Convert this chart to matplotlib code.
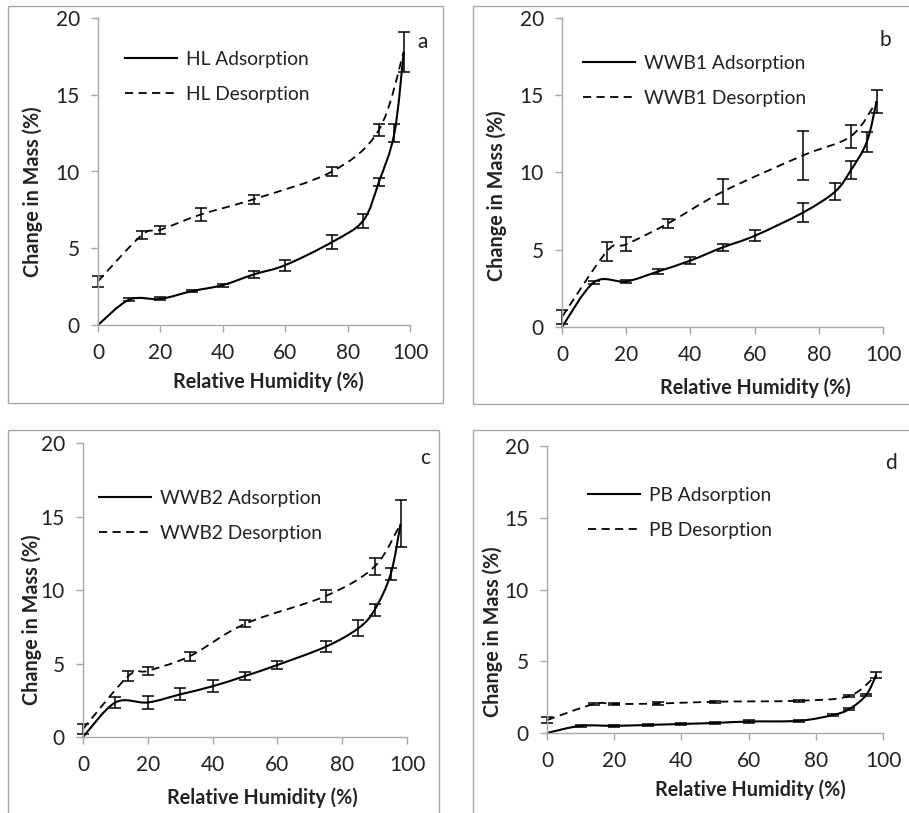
import numpy as np
import matplotlib
matplotlib.use("Agg")
import matplotlib.pyplot as plt
from matplotlib.path import Path
from matplotlib.patches import PathPatch, Rectangle
from matplotlib.lines import Line2D

plt.rcParams['font.family'] = ['Lato', 'DejaVu Sans']

W, H = 909, 813

rh_ads = [0, 10, 20, 30, 40, 50, 60, 75, 85, 90, 95, 98]
rh_des = [0, 14, 20, 33, 50, 75, 90, 98]

# HL
hl_ads = [0, 1.65, 1.7, 2.2, 2.6, 3.3, 3.9, 5.4, 6.8, 9.3, 12.5, 17.8]
hl_ads_err = [0, 0.1, 0.1, 0.05, 0.1, 0.25, 0.35, 0.45, 0.45, 0.25, 0.6, 1.3]
hl_des = [2.85, 5.85, 6.2, 7.2, 8.2, 10.0, 12.7, 17.8]
hl_des_err = [0.35, 0.25, 0.25, 0.4, 0.3, 0.3, 0.4, 0]

# WWB1
wwb1_ads = [0, 2.9, 2.95, 3.6, 4.3, 5.15, 5.9, 7.4, 8.75, 10.15, 12.0, 14.6]
wwb1_ads_err = [0, 0.1, 0.1, 0.15, 0.2, 0.2, 0.35, 0.6, 0.55, 0.6, 0.65, 0.75]
wwb1_des = [0.65, 4.9, 5.35, 6.7, 8.75, 11.1, 12.35, 14.6]
wwb1_des_err = [0.45, 0.6, 0.45, 0.3, 0.8, 1.6, 0.75, 0]

# WWB2
wwb2_ads = [0, 2.35, 2.35, 2.9, 3.45, 4.15, 4.9, 6.15, 7.4, 8.65, 11.1, 14.5]
wwb2_ads_err = [0, 0.4, 0.45, 0.4, 0.4, 0.3, 0.25, 0.35, 0.55, 0.4, 0.4, 1.6]
wwb2_des = [0.55, 4.15, 4.5, 5.5, 7.7, 9.6, 11.6, 14.5]
wwb2_des_err = [0.35, 0.35, 0.25, 0.3, 0.25, 0.4, 0.55, 0]

# PB
pb_ads = [0, 0.5, 0.5, 0.56, 0.63, 0.7, 0.8, 0.85, 1.25, 1.67, 2.65, 4.05]
pb_ads_err = [0, 0.05, 0.05, 0.05, 0.05, 0.05, 0.08, 0.05, 0.05, 0.1, 0.05, 0.2]
pb_des = [0.9, 2.02, 2.02, 2.05, 2.18, 2.25, 2.58, 4.05]
pb_des_err = [0.2, 0.1, 0.08, 0.08, 0.08, 0.06, 0.08, 0]

panels = [
    # name, ads, ads_err, des, des_err, letter, axes px (left, right, top, bottom), frame px, legend xy, letter xy
    ("HL", hl_ads, hl_ads_err, hl_des, hl_des_err, "a",
     (98, 410, 18, 325), (8, 6, 443, 403), (125, 51), (423, 42), (33, 192), (268, 382)),
    ("WWB1", wwb1_ads, wwb1_ads_err, wwb1_des, wwb1_des_err, "b",
     (562, 883, 18, 327), (473, 6, 915, 404), (583, 55), (885, 40), (497, 196), (755, 388)),
    ("WWB2", wwb2_ads, wwb2_ads_err, wwb2_des, wwb2_des_err, "c",
     (83, 407, 443, 737), (8, 430, 439, 820), (99, 490), (425, 458), (32, 620), (262, 798)),
    ("PB", pb_ads, pb_ads_err, pb_des, pb_des_err, "d",
     (547, 883, 446, 733), (473, 430, 915, 820), (588, 487), (891, 463), (493, 632), (750, 790)),
]


def smooth_path(x, y):
    # Excel-style smoothed line: cubic Bezier through the points
    p = np.column_stack([x, y]).astype(float)
    n = len(p)
    verts = [p[0]]
    codes = [Path.MOVETO]
    for i in range(n - 1):
        p0 = p[i - 1] if i > 0 else p[i]
        p3 = p[i + 2] if i + 2 < n else p[i + 1]
        c1 = p[i] + (p[i + 1] - p0) / 6.0
        c2 = p[i + 1] - (p3 - p[i]) / 6.0
        verts += [c1, c2, p[i + 1]]
        codes += [Path.CURVE4] * 3
    return Path(verts, codes)


fig = plt.figure(figsize=(W / 100, H / 100), dpi=100)
gray = "#a6a6a6"
ink = "#222222"

for name, ads, ads_err, des, des_err, letter, ax_px, fr, leg_xy, let_xy, ylab_xy, xlab_xy in panels:
    l, r, t, b = ax_px
    fx0, fy0, fx1, fy1 = fr
    fig.patches.append(Rectangle((fx0 / W, 1 - fy1 / H), (fx1 - fx0) / W, (fy1 - fy0) / H,
                                 transform=fig.transFigure, fill=False, edgecolor=gray, lw=1.0))
    ax = fig.add_axes([l / W, 1 - b / H, (r - l) / W, (b - t) / H])
    ax.patch.set_visible(False)

    ax.add_patch(PathPatch(smooth_path(rh_ads, ads), fill=False, edgecolor="black", lw=1.5, clip_on=False))
    ax.add_patch(PathPatch(smooth_path(rh_des, des), fill=False, edgecolor="black", lw=1.3,
                           linestyle=(0, (4.5, 3)), clip_on=False))
    ax.errorbar(rh_ads[1:], ads[1:], yerr=ads_err[1:], fmt="none", ecolor="black",
                elinewidth=1.1, capsize=4.3, capthick=1.1, clip_on=False)
    ax.errorbar(rh_des[:-1], des[:-1], yerr=des_err[:-1], fmt="none", ecolor="black",
                elinewidth=1.1, capsize=4.3, capthick=1.1, clip_on=False)

    ax.set_xlim(0, 100)
    ax.set_ylim(0, 20)
    ax.set_xticks([0, 20, 40, 60, 80, 100])
    ax.set_yticks([0, 5, 10, 15, 20])
    for s in ["top", "right"]:
        ax.spines[s].set_visible(False)
    for s in ["left", "bottom"]:
        ax.spines[s].set_color(gray)
        ax.spines[s].set_linewidth(1.0)
    ax.tick_params(colors=gray, labelcolor=ink, labelsize=15, length=5, width=1.0, pad=8)

    fig.text(ylab_xy[0] / W, 1 - ylab_xy[1] / H, "Change in Mass (%)", rotation=90,
             ha="center", va="center", fontsize=14.2, fontweight="bold", color=ink)
    fig.text(xlab_xy[0] / W, 1 - xlab_xy[1] / H, "Relative Humidity (%)",
             ha="center", va="center", fontsize=14.2, fontweight="bold", color=ink)
    fig.text(let_xy[0] / W, 1 - let_xy[1] / H, letter, ha="center", va="center",
             fontsize=15, color=ink)

    handles = [Line2D([], [], color="black", lw=1.5),
               Line2D([], [], color="black", lw=1.3, linestyle=(0, (4.5, 3)))]
    fig.legend(handles, [f"{name} Adsorption", f"{name} Desorption"],
               loc="upper left", bbox_to_anchor=(leg_xy[0] / W, 1 - leg_xy[1] / H),
               frameon=False, fontsize=13.8, handlelength=2.7, handletextpad=0.5,
               labelspacing=0.95, borderpad=0, borderaxespad=0, labelcolor=ink)

fig.savefig("out.png", dpi=100)
